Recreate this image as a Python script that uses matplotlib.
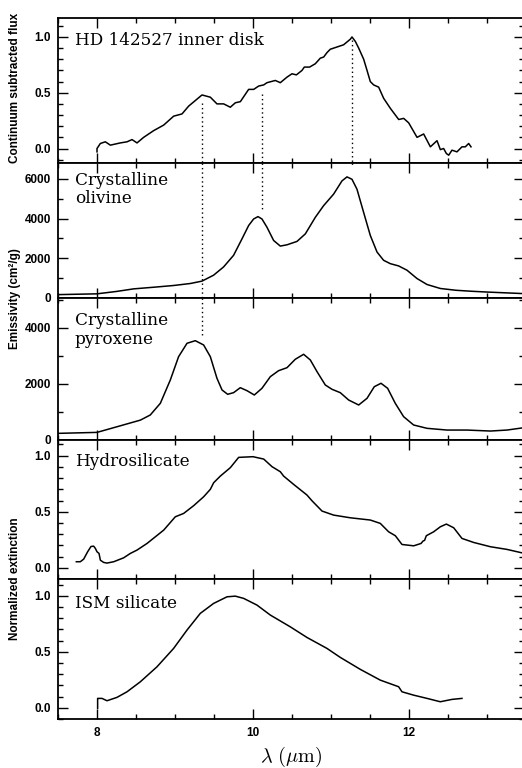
import numpy as np
import matplotlib
matplotlib.use("Agg")
import matplotlib.pyplot as plt
from matplotlib.ticker import MultipleLocator

# ---------------- data ----------------
hd_wl = [8.0, 8.0, 8.043, 8.107, 8.171, 8.299, 8.385, 8.449, 8.513, 8.598, 8.726, 8.855,
         8.983, 9.090, 9.175, 9.346, 9.453, 9.538, 9.624, 9.709, 9.774, 9.838, 9.944,
         10.009, 10.073, 10.137, 10.179, 10.286, 10.350, 10.436, 10.500, 10.556, 10.628,
         10.658, 10.726, 10.799, 10.863, 10.906, 10.949, 10.991, 11.077, 11.162, 11.248,
         11.269, 11.312, 11.355, 11.419, 11.462, 11.504, 11.547, 11.611, 11.675, 11.761,
         11.868, 11.932, 11.996, 12.103, 12.188, 12.274, 12.359, 12.402, 12.444, 12.479,
         12.509, 12.551, 12.615, 12.679, 12.722, 12.765, 12.795]
hd_flux = [-0.03, 0.0, 0.045, 0.06, 0.03, 0.05, 0.06, 0.08, 0.05, 0.10, 0.16, 0.21,
           0.29, 0.31, 0.38, 0.48, 0.46, 0.40, 0.40, 0.37, 0.41, 0.42, 0.53,
           0.53, 0.56, 0.57, 0.59, 0.61, 0.59, 0.64, 0.67, 0.66, 0.70,
           0.73, 0.73, 0.76, 0.81, 0.82, 0.86, 0.89, 0.91, 0.93, 0.98,
           1.0, 0.96, 0.90, 0.80, 0.70, 0.60, 0.57, 0.55, 0.45, 0.36,
           0.26, 0.27, 0.23, 0.10, 0.13, 0.015, 0.07, -0.01, 0.0, -0.045,
           -0.06, -0.015, -0.03, 0.015, 0.015, 0.045, 0.015]

oli_wl = [7.5, 8.0, 8.25, 8.47, 8.75, 8.983, 9.196, 9.346, 9.495, 9.623, 9.751, 9.859,
          9.944, 10.008, 10.064, 10.115, 10.179, 10.264, 10.35, 10.436, 10.564, 10.671,
          10.799, 10.905, 11.033, 11.141, 11.205, 11.269, 11.333, 11.418, 11.504, 11.590,
          11.674, 11.760, 11.867, 11.974, 12.103, 12.231, 12.401, 12.60, 12.80, 13.0, 13.5]
oli_em = [170, 210, 330, 460, 550, 630, 730, 850, 1150, 1565, 2150, 2980,
          3650, 3980, 4100, 3980, 3565, 2900, 2615, 2680, 2850, 3230,
          4065, 4650, 5230, 5900, 6100, 5980, 5480, 4315, 3150, 2315,
          1900, 1730, 1615, 1400, 980, 680, 480, 390, 340, 300, 216]

pyr_wl = [7.5, 8.0, 8.256, 8.556, 8.683, 8.812, 8.940, 9.046, 9.154, 9.260, 9.367,
          9.453, 9.538, 9.603, 9.675, 9.751, 9.837, 9.923, 10.017, 10.115, 10.222,
          10.328, 10.436, 10.542, 10.649, 10.735, 10.821, 10.927, 11.013, 11.119, 11.226,
          11.355, 11.462, 11.555, 11.641, 11.726, 11.824, 11.931, 12.059, 12.231, 12.487,
          12.744, 13.043, 13.256, 13.5]
pyr_em = [237, 272, 473, 710, 893, 1310, 2143, 2975, 3453, 3546, 3393,
          2975, 2203, 1786, 1632, 1690, 1868, 1761, 1607, 1846, 2261,
          2475, 2582, 2882, 3060, 2857, 2439, 1964, 1810, 1690, 1428,
          1250, 1489, 1903, 2025, 1846, 1310, 833, 536, 417, 355,
          355, 320, 355, 450]

hyd_wl = [7.735, 7.786, 7.829, 7.880, 7.923, 7.957, 7.979, 8.0, 8.026, 8.043, 8.085,
          8.128, 8.214, 8.342, 8.427, 8.513, 8.641, 8.855, 9.004, 9.111, 9.239, 9.368,
          9.453, 9.496, 9.581, 9.709, 9.816, 10.0, 10.137, 10.244, 10.350, 10.393,
          10.521, 10.692, 10.756, 10.885, 11.034, 11.248, 11.504, 11.632, 11.739, 11.825,
          11.910, 12.060, 12.154, 12.179, 12.200, 12.222, 12.316, 12.402, 12.479, 12.573,
          12.679, 12.829, 13.043, 13.256, 13.5]
hyd_ext = [0.054, 0.054, 0.077, 0.143, 0.19, 0.193, 0.173, 0.143, 0.128, 0.068, 0.048,
           0.042, 0.054, 0.089, 0.128, 0.158, 0.217, 0.336, 0.455, 0.485, 0.554, 0.634,
           0.70, 0.759, 0.818, 0.893, 0.985, 0.991, 0.97, 0.902, 0.857, 0.818,
           0.744, 0.649, 0.598, 0.506, 0.470, 0.446, 0.426, 0.396, 0.321, 0.286,
           0.208, 0.196, 0.217, 0.238, 0.245, 0.286, 0.321, 0.366, 0.390, 0.357,
           0.262, 0.226, 0.188, 0.164, 0.125]

ism_wl = [8.008, 8.008, 8.021, 8.064, 8.128, 8.256, 8.385, 8.555, 8.769, 8.982, 9.154,
          9.324, 9.495, 9.667, 9.773, 9.880, 10.051, 10.222, 10.478, 10.692, 10.949,
          11.119, 11.376, 11.632, 11.867, 11.910, 12.059, 12.231, 12.401, 12.551, 12.679]
ism_ext = [-0.005, 0.084, 0.084, 0.084, 0.063, 0.093, 0.143, 0.232, 0.366, 0.530, 0.694,
           0.843, 0.932, 0.991, 0.997, 0.977, 0.917, 0.828, 0.723, 0.628, 0.530,
           0.450, 0.343, 0.247, 0.188, 0.143, 0.113, 0.084, 0.054, 0.075, 0.084]

panel_labels = ["HD 142527 inner disk", "Crystalline\nolivine", "Crystalline\npyroxene",
                "Hydrosilicate", "ISM silicate"]

# dotted feature markers: x position, start value in panel 1, (panel index, end value)
feat_x = [9.34, 10.11, 11.27]
feat_top = [0.41, 0.49, 0.976]
feat_end_panel = [2, 1, 1]
feat_end_val = [3700, 4400, 6600]

# ---------------- figure ----------------
W, H = 522, 768
fig = plt.figure(figsize=(W / 100, H / 100), dpi=100)
plt.rcParams["mathtext.fontset"] = "cm"

left_px, right_px = 58, 524
bounds = [(18, 163), (163, 298), (298, 440), (440, 579), (579, 719)]
ylims = [(-0.13, 1.17), (0, 6800), (0, 5070), (-0.10, 1.14), (-0.10, 1.15)]
ymaj = [0.5, 2000, 2000, 0.5, 0.5]
ymin_ = [0.1, 1000, 1000, 0.1, 0.1]
label_y = [0.905, 0.935, 0.9, 0.91, 0.885]
yfmt = ["{:.1f}", "{:.0f}", "{:.0f}", "{:.1f}", "{:.1f}"]

axes = []
for i, (top, bot) in enumerate(bounds):
    ax = fig.add_axes([left_px / W, 1 - bot / H, (right_px - left_px) / W, (bot - top) / H])
    ax.set_xlim(7.5, 7.5 + (right_px - left_px) / 78.0)
    ax.set_ylim(*ylims[i])
    ax.xaxis.set_major_locator(MultipleLocator(2))
    ax.xaxis.set_minor_locator(MultipleLocator(0.5))
    ax.yaxis.set_major_locator(MultipleLocator(ymaj[i]))
    ax.yaxis.set_minor_locator(MultipleLocator(ymin_[i]))
    ax.yaxis.set_major_formatter(lambda v, p, f=yfmt[i]: f.format(v))
    ax.xaxis.set_major_formatter(lambda v, p: f"{v:.0f}")
    ax.tick_params(which="both", direction="in", top=True, right=True, width=1.0)
    ax.tick_params(which="major", length=7)
    ax.tick_params(which="minor", length=3.5)
    ax.tick_params(axis="y", pad=5)
    ax.tick_params(axis="x", pad=6)
    for s in ax.spines.values():
        s.set_linewidth(1.3)
    if i < 4:
        ax.tick_params(labelbottom=False)
    ax.text(0.036, label_y[i], panel_labels[i], transform=ax.transAxes, va="top", ha="left",
            family="DejaVu Serif", fontsize=12.2, linespacing=1.12)
    axes.append(ax)

for ax in axes:
    for lab in ax.get_yticklabels() + ax.get_xticklabels():
        lab.set_fontfamily("Liberation Sans")
        lab.set_fontweight("bold")
        lab.set_fontsize(8.5)

lw = 1.1
axes[0].plot(hd_wl, hd_flux, color="black", lw=lw)
axes[1].plot(oli_wl, oli_em, color="black", lw=lw)
axes[2].plot(pyr_wl, pyr_em, color="black", lw=lw)
axes[3].plot(hyd_wl, hyd_ext, color="black", lw=lw)
axes[4].plot(ism_wl, ism_ext, color="black", lw=lw)

# dotted lines
dot = dict(color="black", lw=1.0, linestyle=(0, (1, 2.2)))
for x, t, p_end, v_end in zip(feat_x, feat_top, feat_end_panel, feat_end_val):
    axes[0].plot([x, x], [t, ylims[0][0]], **dot)
    for p in range(1, p_end + 1):
        lo = v_end if p == p_end else ylims[p][0]
        axes[p].plot([x, x], [ylims[p][1], lo], **dot)

# axis labels
fig.text(291 / W, 1 - 757 / H, r"$\lambda\ (\mu\mathrm{m})$", ha="center", va="center", fontsize=14.5)
lab = dict(family="Liberation Sans", weight="bold", fontsize=8.5, rotation=90, ha="center", va="center")
fig.text(15 / W, 1 - 88 / H, "Continuum subtracted flux", **lab)
fig.text(15 / W, 1 - 299 / H, "Emissivity (cm²/g)", **lab)
fig.text(15 / W, 1 - 579 / H, "Normalized extinction", **lab)

fig.savefig("out.png", dpi=100)
